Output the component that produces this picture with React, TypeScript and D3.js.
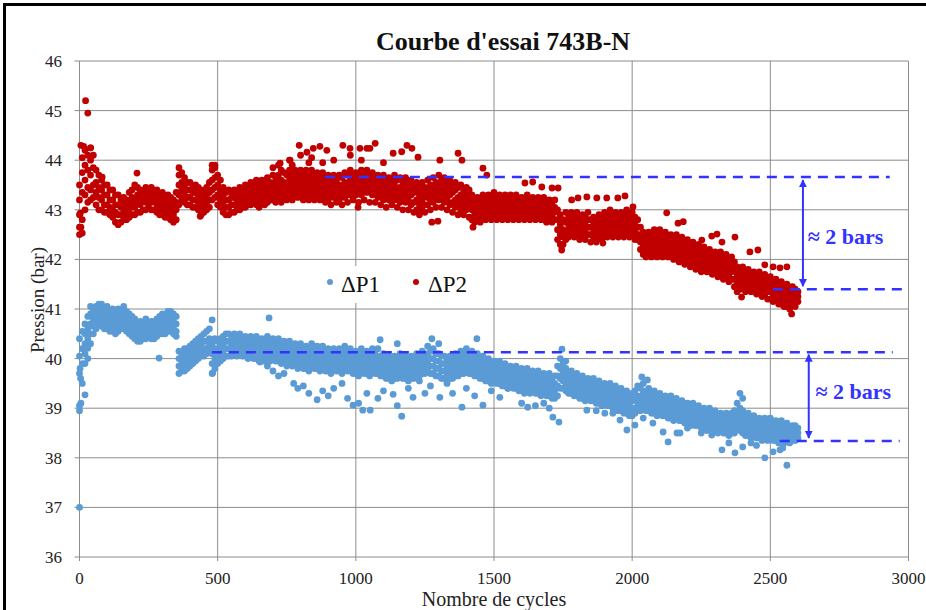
import React from "react";
import * as d3 from "d3";

const W = 926;
const H = 610;

const title = "Courbe d'essai 743B-N";
const xLabel = "Nombre de cycles";
const yLabel = "Pression (bar)";
const xTicks = [0, 500, 1000, 1500, 2000, 2500, 3000];
const yTicks = [36, 37, 38, 39, 40, 41, 42, 43, 44, 45, 46];
const seriesNames = ["ΔP1", "ΔP2"];
const annotationText = "≈ 2 bars";

// ΔP2 main band: [cycle, values...]
const dp2Band: number[][] = [
  [0, 42.5, 42.65, 42.9, 43.2, 43.5],
  [20, 43.0, 43.3, 43.6, 43.9, 44.2],
  [40, 43.2, 43.4, 43.7, 44.0, 44.25],
  [60, 43.1, 43.35, 43.55, 43.8],
  [80, 43.0, 43.2, 43.4, 43.6],
  [100, 42.95, 43.1, 43.3, 43.5],
  [120, 42.85, 43.0, 43.2, 43.4],
  [140, 42.7, 42.9, 43.1, 43.3],
  [160, 42.8, 42.95, 43.1, 43.25],
  [180, 42.85, 43.0, 43.15, 43.35],
  [200, 42.9, 43.05, 43.2, 43.5],
  [220, 42.95, 43.1, 43.25, 43.4],
  [240, 43.0, 43.15, 43.3, 43.45],
  [260, 43.0, 43.15, 43.3, 43.45],
  [280, 42.95, 43.1, 43.25, 43.4],
  [300, 42.9, 43.05, 43.2, 43.35],
  [320, 42.85, 43.0, 43.15, 43.3],
  [340, 42.75, 42.9, 43.05, 43.2],
  [360, 43.1, 43.3, 43.5, 43.7, 43.85],
  [380, 43.15, 43.3, 43.45, 43.65],
  [400, 43.1, 43.25, 43.4, 43.55],
  [420, 43.05, 43.2, 43.35, 43.5],
  [440, 42.9, 43.1, 43.25, 43.4],
  [460, 43.0, 43.15, 43.3, 43.45],
  [480, 43.2, 43.4, 43.6, 43.8, 43.9],
  [500, 43.1, 43.3, 43.5, 43.7],
  [520, 42.95, 43.1, 43.3, 43.45],
  [540, 42.9, 43.05, 43.2, 43.4],
  [560, 42.95, 43.1, 43.25, 43.4],
  [580, 43.0, 43.15, 43.3, 43.45],
  [600, 43.05, 43.2, 43.35, 43.5],
  [620, 43.1, 43.25, 43.4, 43.55],
  [640, 43.1, 43.25, 43.4, 43.6],
  [660, 43.15, 43.3, 43.45, 43.6],
  [680, 43.15, 43.3, 43.45, 43.65],
  [700, 43.2, 43.35, 43.5, 43.7, 43.85],
  [720, 43.2, 43.35, 43.5, 43.7, 43.9],
  [740, 43.25, 43.4, 43.55, 43.75],
  [760, 43.25, 43.4, 43.6, 43.8, 44.0],
  [780, 43.3, 43.45, 43.6, 43.8],
  [800, 43.3, 43.45, 43.6, 43.8, 44.1],
  [820, 43.3, 43.45, 43.6, 43.8],
  [840, 43.25, 43.4, 43.6, 43.8, 44.05],
  [860, 43.3, 43.45, 43.6, 43.75],
  [880, 43.25, 43.4, 43.55, 43.75, 43.95],
  [900, 43.2, 43.4, 43.55, 43.7],
  [920, 43.25, 43.4, 43.55, 43.7, 44.0],
  [940, 43.2, 43.35, 43.5, 43.7],
  [960, 43.25, 43.4, 43.55, 43.75],
  [980, 43.3, 43.45, 43.6, 43.8, 44.1],
  [1000, 43.3, 43.45, 43.6, 43.75],
  [1020, 43.3, 43.45, 43.6, 43.8, 44.0],
  [1040, 43.35, 43.5, 43.65, 43.8],
  [1060, 43.3, 43.45, 43.6, 43.75],
  [1080, 43.25, 43.4, 43.55, 43.7],
  [1100, 43.2, 43.35, 43.5, 43.7, 43.95],
  [1120, 43.2, 43.35, 43.5, 43.65],
  [1140, 43.2, 43.35, 43.5, 43.7],
  [1160, 43.15, 43.3, 43.45, 43.65],
  [1180, 43.15, 43.3, 43.5, 43.65],
  [1200, 43.1, 43.3, 43.45, 43.6],
  [1220, 43.0, 43.2, 43.4, 43.55],
  [1240, 43.0, 43.2, 43.35, 43.55],
  [1260, 43.1, 43.25, 43.4, 43.6],
  [1280, 43.15, 43.3, 43.45, 43.65],
  [1300, 43.2, 43.35, 43.5, 43.7],
  [1320, 43.15, 43.3, 43.5, 43.65],
  [1340, 43.1, 43.3, 43.45, 43.6],
  [1360, 43.05, 43.2, 43.4, 43.55],
  [1380, 43.0, 43.15, 43.3, 43.5],
  [1400, 43.0, 43.15, 43.3, 43.45],
  [1420, 42.8, 43.0, 43.15, 43.3],
  [1440, 42.8, 42.95, 43.1, 43.25],
  [1460, 42.85, 43.0, 43.15, 43.3],
  [1480, 42.85, 43.0, 43.15, 43.3],
  [1500, 42.9, 43.05, 43.2, 43.35],
  [1520, 42.85, 43.0, 43.15, 43.3],
  [1540, 42.85, 43.0, 43.15, 43.3],
  [1560, 42.9, 43.05, 43.2, 43.3],
  [1580, 42.85, 43.0, 43.15, 43.3],
  [1600, 42.85, 43.0, 43.1, 43.25],
  [1620, 42.9, 43.0, 43.15, 43.3],
  [1640, 42.85, 43.0, 43.1, 43.25],
  [1660, 42.85, 42.95, 43.1, 43.25],
  [1680, 42.85, 43.0, 43.1, 43.25],
  [1700, 42.8, 42.95, 43.1, 43.2],
  [1720, 42.8, 42.95, 43.05, 43.2],
  [1740, 42.3, 42.5, 42.7, 42.9],
  [1760, 42.4, 42.55, 42.75, 42.95],
  [1780, 42.5, 42.65, 42.8, 42.95],
  [1800, 42.5, 42.65, 42.8, 42.95],
  [1820, 42.45, 42.6, 42.75, 42.9],
  [1840, 42.5, 42.65, 42.8, 42.95],
  [1860, 42.4, 42.55, 42.7, 42.85],
  [1880, 42.45, 42.6, 42.75, 42.9],
  [1900, 42.5, 42.65, 42.8, 42.95],
  [1920, 42.55, 42.7, 42.85, 43.0],
  [1940, 42.5, 42.65, 42.8, 42.95],
  [1960, 42.5, 42.65, 42.8, 42.95],
  [1980, 42.55, 42.7, 42.85, 43.0],
  [2000, 42.5, 42.65, 42.8, 42.95],
  [2020, 42.4, 42.5, 42.65, 42.8],
  [2040, 42.1, 42.25, 42.4, 42.55],
  [2060, 42.1, 42.25, 42.4, 42.55],
  [2080, 42.1, 42.25, 42.4, 42.6],
  [2100, 42.15, 42.3, 42.45, 42.6],
  [2120, 42.1, 42.25, 42.4, 42.55],
  [2140, 42.1, 42.2, 42.35, 42.5],
  [2160, 42.05, 42.2, 42.35, 42.5],
  [2180, 42.0, 42.15, 42.3, 42.45],
  [2200, 41.95, 42.1, 42.25, 42.4],
  [2220, 41.9, 42.05, 42.2, 42.35],
  [2240, 41.85, 42.0, 42.15, 42.3],
  [2260, 41.8, 41.95, 42.1, 42.25],
  [2280, 41.8, 41.95, 42.05, 42.2],
  [2300, 41.75, 41.9, 42.0, 42.15],
  [2320, 41.7, 41.85, 42.0, 42.15],
  [2340, 41.65, 41.8, 41.95, 42.1],
  [2360, 41.6, 41.75, 41.9, 42.05],
  [2380, 41.35, 41.55, 41.7, 41.85],
  [2400, 41.45, 41.6, 41.7, 41.85],
  [2420, 41.4, 41.55, 41.65, 41.8],
  [2440, 41.4, 41.5, 41.65, 41.75],
  [2460, 41.35, 41.5, 41.6, 41.75],
  [2480, 41.3, 41.45, 41.55, 41.7],
  [2500, 41.2, 41.35, 41.5, 41.65],
  [2520, 41.2, 41.3, 41.45, 41.6],
  [2540, 41.1, 41.25, 41.4, 41.55],
  [2560, 41.05, 41.2, 41.35, 41.5],
  [2580, 41.1, 41.2, 41.3, 41.45],
  [2600, 41.15, 41.25, 41.35],
];

// ΔP2 band, in-between readings: [cycle, values...]
const dp2BandMid: number[][] = [
  [10, 42.8, 43.35, 43.75, 44.05], [30, 43.15, 43.45, 43.8, 44.1], [50, 43.25, 43.5, 43.85],
  [70, 43.0, 43.25, 43.45, 43.7], [90, 42.95, 43.1, 43.3, 43.5], [110, 42.9, 43.05, 43.2, 43.4],
  [130, 42.75, 42.95, 43.1, 43.3], [150, 42.75, 42.9, 43.05, 43.2], [170, 42.8, 42.9, 43.05, 43.2],
  [190, 42.9, 43.1, 43.25, 43.4], [210, 42.95, 43.15, 43.3, 43.45], [230, 43.0, 43.2, 43.35],
  [250, 43.05, 43.25, 43.4], [270, 43.0, 43.2, 43.35], [290, 42.9, 43.0, 43.15, 43.3],
  [310, 42.85, 42.95, 43.1, 43.25], [330, 42.8, 42.95, 43.1, 43.25], [350, 42.8, 43.0, 43.15, 43.35],
  [370, 43.2, 43.4, 43.55, 43.75], [390, 43.1, 43.25, 43.4, 43.55], [410, 43.05, 43.2, 43.35, 43.45],
  [430, 43.0, 43.15, 43.3, 43.45], [450, 42.95, 43.05, 43.2, 43.35], [470, 43.05, 43.2, 43.35, 43.55],
  [490, 43.25, 43.45, 43.65, 43.85], [510, 43.05, 43.2, 43.4, 43.6], [530, 42.9, 43.05, 43.2, 43.35],
  [550, 42.95, 43.1, 43.25, 43.35], [570, 43.0, 43.05, 43.2, 43.35], [590, 43.05, 43.1, 43.25, 43.4],
  [610, 43.1, 43.15, 43.3, 43.45], [630, 43.15, 43.2, 43.35, 43.5], [650, 43.05, 43.2, 43.35, 43.5],
  [670, 43.1, 43.25, 43.4, 43.55], [690, 43.2, 43.25, 43.4, 43.55], [710, 43.15, 43.3, 43.45, 43.6],
  [730, 43.15, 43.3, 43.45, 43.6, 43.8], [750, 43.2, 43.35, 43.5, 43.7], [770, 43.2, 43.35, 43.5, 43.7, 43.9],
  [790, 43.25, 43.4, 43.55, 43.7], [810, 43.2, 43.35, 43.5, 43.7], [830, 43.2, 43.35, 43.5, 43.7, 43.95],
  [850, 43.2, 43.35, 43.5, 43.7], [870, 43.2, 43.35, 43.5, 43.65], [890, 43.15, 43.3, 43.45, 43.65],
  [910, 43.1, 43.3, 43.45, 43.6], [930, 43.15, 43.3, 43.45, 43.6], [950, 43.1, 43.3, 43.45, 43.65],
  [970, 43.15, 43.35, 43.5, 43.7], [990, 43.2, 43.35, 43.5, 43.7], [1010, 43.15, 43.35, 43.5, 43.7],
  [1030, 43.2, 43.4, 43.55, 43.7], [1050, 43.15, 43.4, 43.55, 43.7], [1070, 43.15, 43.35, 43.5, 43.65],
  [1090, 43.1, 43.3, 43.45, 43.6], [1110, 43.05, 43.25, 43.4, 43.6], [1130, 43.1, 43.25, 43.4, 43.6],
  [1150, 43.05, 43.25, 43.4, 43.6], [1170, 43.0, 43.2, 43.4, 43.55], [1190, 43.0, 43.2, 43.4, 43.55],
  [1210, 42.95, 43.15, 43.35, 43.5], [1230, 42.9, 43.1, 43.3, 43.45], [1250, 42.95, 43.1, 43.3, 43.45],
  [1270, 43.0, 43.2, 43.35, 43.5], [1290, 43.05, 43.25, 43.4, 43.55], [1310, 43.05, 43.25, 43.4, 43.6],
  [1330, 43.0, 43.2, 43.4, 43.55], [1350, 42.95, 43.15, 43.35, 43.5], [1370, 42.9, 43.1, 43.25, 43.45],
  [1390, 42.9, 43.05, 43.25, 43.4], [1410, 42.85, 43.05, 43.2, 43.4], [1430, 42.75, 42.9, 43.05, 43.2],
  [1450, 42.75, 42.9, 43.05, 43.2], [1470, 42.8, 42.95, 43.1, 43.2], [1490, 42.8, 42.95, 43.1, 43.25],
  [1510, 42.8, 42.95, 43.1, 43.25], [1530, 42.8, 42.95, 43.1, 43.2], [1550, 42.8, 42.95, 43.1, 43.25],
  [1570, 42.8, 42.95, 43.1, 43.2], [1590, 42.8, 42.95, 43.05, 43.2], [1610, 42.8, 42.95, 43.05, 43.2],
  [1630, 42.8, 42.95, 43.05, 43.2], [1650, 42.8, 42.9, 43.05, 43.15], [1670, 42.8, 42.9, 43.05, 43.2],
  [1690, 42.75, 42.9, 43.05, 43.15], [1710, 42.75, 42.85, 43.0, 43.15], [1730, 42.4, 42.6, 42.8, 43.0],
  [1750, 42.3, 42.45, 42.6, 42.8], [1770, 42.45, 42.6, 42.7, 42.85], [1790, 42.45, 42.55, 42.7, 42.85],
  [1810, 42.4, 42.55, 42.7, 42.85], [1830, 42.4, 42.55, 42.7, 42.85], [1850, 42.35, 42.5, 42.65, 42.8],
  [1870, 42.35, 42.5, 42.65, 42.8], [1890, 42.4, 42.55, 42.7, 42.85], [1910, 42.45, 42.6, 42.75, 42.9],
  [1930, 42.45, 42.6, 42.75, 42.9], [1950, 42.45, 42.6, 42.75, 42.9], [1970, 42.45, 42.6, 42.75, 42.9],
  [1990, 42.45, 42.6, 42.75, 42.9], [2010, 42.4, 42.55, 42.7, 42.85], [2030, 42.2, 42.35, 42.5, 42.65],
  [2050, 42.05, 42.2, 42.35, 42.5], [2070, 42.05, 42.2, 42.35, 42.5], [2090, 42.05, 42.2, 42.35, 42.5],
  [2110, 42.05, 42.2, 42.35, 42.5], [2130, 42.05, 42.15, 42.3, 42.45], [2150, 42.0, 42.15, 42.3, 42.4],
  [2170, 41.95, 42.1, 42.25, 42.4], [2190, 41.9, 42.05, 42.2, 42.35], [2210, 41.85, 42.0, 42.15, 42.3],
  [2230, 41.8, 41.95, 42.1, 42.25], [2250, 41.75, 41.9, 42.05, 42.2], [2270, 41.75, 41.85, 42.0, 42.15],
  [2290, 41.7, 41.85, 42.0, 42.1], [2310, 41.65, 41.8, 41.95, 42.1], [2330, 41.6, 41.75, 41.9, 42.05],
  [2350, 41.55, 41.7, 41.85, 42.0], [2370, 41.45, 41.6, 41.8, 41.95], [2390, 41.4, 41.5, 41.65, 41.8],
  [2410, 41.35, 41.5, 41.6, 41.75], [2430, 41.35, 41.45, 41.6, 41.7], [2450, 41.3, 41.45, 41.55, 41.7],
  [2470, 41.25, 41.4, 41.5, 41.65], [2490, 41.2, 41.35, 41.45, 41.6], [2510, 41.15, 41.25, 41.4, 41.55],
  [2530, 41.1, 41.2, 41.35, 41.5], [2550, 41.05, 41.15, 41.3, 41.45], [2570, 41.0, 41.15, 41.25, 41.4],
  [2590, 41.05, 41.15, 41.25, 41.4],
];

// ΔP2 scattered points: [cycle, value]
const dp2Scatter: number[][] = [
  [5, 44.3], [15, 44.28], [22, 45.2], [30, 44.95], [40, 44.25], [10, 42.53], [5, 42.65], [3, 42.93],
  [50, 44.1], [82, 43.66], [208, 43.74], [437, 42.87], [490, 43.9],
  [726, 43.94], [762, 44.0], [795, 44.3], [823, 44.16], [846, 44.24], [870, 44.28], [895, 44.2],
  [953, 44.3], [979, 44.24], [1015, 44.24], [1008, 43.05], [1051, 44.24], [1070, 44.34], [1040, 44.24],
  [1135, 44.14], [1166, 44.17], [1185, 44.3], [1203, 44.24], [1225, 44.06], [1304, 44.0], [1370, 44.14],
  [1384, 44.0], [1460, 43.84], [1474, 43.7], [1275, 42.75], [1297, 42.77], [1424, 42.65],
  [1612, 43.54], [1640, 43.56], [1673, 43.46], [1710, 43.44], [1732, 43.44],
  [1781, 43.2], [1804, 43.24], [1836, 43.26], [1872, 43.24], [1908, 43.24], [1948, 43.24], [1974, 43.28],
  [2003, 43.06], [1745, 42.19], [1894, 42.33],
  [2125, 42.94], [2166, 42.73], [2185, 42.76], [2252, 42.39], [2288, 42.47], [2307, 42.51], [2325, 42.35],
  [2372, 42.45], [2426, 42.15], [2455, 42.19], [2480, 41.89], [2510, 41.85], [2535, 41.83], [2560, 41.85],
  [2396, 41.24], [2524, 41.24], [2577, 40.9], [2546, 41.08],
];

// ΔP1 main band: [cycle, values...]
const dp1Band: number[][] = [
  [0, 38.95, 39.05, 39.7, 40.05, 40.4],
  [20, 39.9, 40.1, 40.3, 40.5, 40.7],
  [40, 40.3, 40.5, 40.7, 40.9, 41.05],
  [60, 40.6, 40.75, 40.9, 41.05],
  [80, 40.65, 40.8, 40.95, 41.1],
  [100, 40.6, 40.75, 40.9, 41.05],
  [120, 40.55, 40.7, 40.85, 41.0],
  [140, 40.55, 40.7, 40.85, 41.0],
  [160, 40.6, 40.75, 40.9, 41.05],
  [180, 40.5, 40.6, 40.75, 40.9],
  [200, 40.4, 40.5, 40.65, 40.8],
  [220, 40.35, 40.5, 40.6, 40.75],
  [240, 40.4, 40.5, 40.65, 40.8],
  [260, 40.4, 40.55, 40.65, 40.75],
  [280, 40.45, 40.55, 40.7, 40.8],
  [300, 40.5, 40.6, 40.75, 40.9],
  [320, 40.55, 40.65, 40.8, 40.95],
  [340, 40.5, 40.6, 40.75, 40.9],
  [360, 39.7, 39.85, 40.0, 40.15],
  [380, 39.75, 39.9, 40.05, 40.2],
  [400, 39.85, 40.0, 40.1, 40.25],
  [420, 39.95, 40.05, 40.2, 40.35],
  [440, 40.05, 40.15, 40.3, 40.45],
  [460, 40.1, 40.2, 40.35, 40.55],
  [480, 39.7, 39.9, 40.1, 40.3],
  [500, 39.9, 40.05, 40.2, 40.35],
  [520, 40.0, 40.15, 40.3, 40.45],
  [540, 40.05, 40.2, 40.35, 40.5],
  [560, 40.1, 40.2, 40.35, 40.5],
  [580, 40.1, 40.2, 40.35, 40.5],
  [600, 40.05, 40.2, 40.3, 40.45],
  [620, 40.05, 40.2, 40.3, 40.45],
  [640, 40.0, 40.15, 40.3, 40.45],
  [660, 39.95, 40.1, 40.25, 40.4],
  [680, 40.0, 40.15, 40.3, 40.45],
  [700, 40.0, 40.1, 40.25, 40.4],
  [720, 39.95, 40.1, 40.25, 40.4],
  [740, 39.95, 40.05, 40.2, 40.35],
  [760, 39.9, 40.05, 40.2, 40.35],
  [780, 39.9, 40.0, 40.15, 40.3],
  [800, 39.85, 40.0, 40.15, 40.3],
  [820, 39.8, 39.95, 40.1, 40.25],
  [840, 39.85, 40.0, 40.15, 40.3],
  [860, 39.8, 39.95, 40.1, 40.25],
  [880, 39.8, 39.95, 40.1, 40.25],
  [900, 39.75, 39.9, 40.05, 40.2],
  [920, 39.8, 39.95, 40.05, 40.2],
  [940, 39.75, 39.9, 40.05, 40.2],
  [960, 39.8, 39.95, 40.1, 40.25],
  [980, 39.75, 39.9, 40.05, 40.2],
  [1000, 39.7, 39.85, 40.0, 40.15],
  [1020, 39.75, 39.9, 40.05, 40.2],
  [1040, 39.7, 39.85, 40.0, 40.15],
  [1060, 39.75, 39.9, 40.05, 40.2],
  [1080, 39.7, 39.85, 40.0, 40.2],
  [1100, 39.65, 39.8, 39.95, 40.1],
  [1120, 39.6, 39.75, 39.9, 40.05],
  [1140, 39.6, 39.75, 39.9, 40.05],
  [1160, 39.65, 39.8, 39.95, 40.1],
  [1180, 39.6, 39.75, 39.9, 40.05],
  [1200, 39.6, 39.75, 39.9, 40.05],
  [1220, 39.65, 39.8, 39.95, 40.1],
  [1240, 39.7, 39.85, 40.0, 40.15],
  [1260, 39.75, 39.9, 40.05, 40.25],
  [1280, 39.7, 39.85, 40.0, 40.2],
  [1300, 39.65, 39.8, 39.95, 40.1],
  [1320, 39.6, 39.75, 39.9, 40.05],
  [1340, 39.6, 39.75, 39.9, 40.05],
  [1360, 39.65, 39.8, 39.95, 40.1],
  [1380, 39.7, 39.85, 40.0, 40.15],
  [1400, 39.75, 39.9, 40.05, 40.2],
  [1420, 39.7, 39.85, 40.0, 40.15],
  [1440, 39.65, 39.8, 39.95, 40.1],
  [1460, 39.6, 39.75, 39.9, 40.05],
  [1480, 39.55, 39.7, 39.85, 40.0],
  [1500, 39.55, 39.7, 39.85, 39.95],
  [1520, 39.5, 39.65, 39.8, 39.95],
  [1540, 39.45, 39.6, 39.75, 39.9],
  [1560, 39.45, 39.6, 39.7, 39.85],
  [1580, 39.4, 39.55, 39.7, 39.85],
  [1600, 39.35, 39.5, 39.65, 39.8],
  [1620, 39.35, 39.5, 39.65, 39.8],
  [1640, 39.35, 39.45, 39.6, 39.75],
  [1660, 39.3, 39.45, 39.6, 39.75],
  [1680, 39.3, 39.45, 39.55, 39.7],
  [1700, 39.25, 39.4, 39.55, 39.7],
  [1720, 39.2, 39.35, 39.5, 39.65],
  [1740, 39.4, 39.6, 39.8, 40.0],
  [1760, 39.35, 39.5, 39.65, 39.8],
  [1780, 39.3, 39.45, 39.6, 39.75],
  [1800, 39.25, 39.4, 39.55, 39.7],
  [1820, 39.2, 39.35, 39.5, 39.65],
  [1840, 39.2, 39.3, 39.45, 39.6],
  [1860, 39.15, 39.3, 39.45, 39.6],
  [1880, 39.1, 39.25, 39.4, 39.55],
  [1900, 39.1, 39.2, 39.35, 39.5],
  [1920, 39.05, 39.2, 39.35, 39.5],
  [1940, 39.0, 39.15, 39.3, 39.45],
  [1960, 38.95, 39.1, 39.25, 39.4],
  [1980, 38.9, 39.05, 39.2, 39.35],
  [2000, 38.85, 39.0, 39.15, 39.3],
  [2020, 38.95, 39.1, 39.25, 39.45],
  [2040, 39.0, 39.15, 39.3, 39.5],
  [2060, 38.95, 39.1, 39.25, 39.4],
  [2080, 38.9, 39.05, 39.2, 39.35],
  [2100, 38.9, 39.0, 39.15, 39.3],
  [2120, 38.85, 39.0, 39.1, 39.25],
  [2140, 38.8, 38.95, 39.1, 39.25],
  [2160, 38.8, 38.9, 39.05, 39.2],
  [2180, 38.75, 38.9, 39.0, 39.15],
  [2200, 38.7, 38.85, 39.0, 39.1],
  [2220, 38.7, 38.8, 38.95, 39.1],
  [2240, 38.65, 38.8, 38.9, 39.05],
  [2260, 38.6, 38.75, 38.9, 39.0],
  [2280, 38.6, 38.7, 38.85, 39.0],
  [2300, 38.55, 38.7, 38.8, 38.95],
  [2320, 38.55, 38.65, 38.8, 38.9],
  [2340, 38.5, 38.65, 38.75, 38.9],
  [2360, 38.5, 38.6, 38.75, 38.9],
  [2380, 38.6, 38.75, 38.9, 39.1],
  [2400, 38.5, 38.65, 38.8, 38.95],
  [2420, 38.45, 38.6, 38.75, 38.9],
  [2440, 38.45, 38.55, 38.7, 38.85],
  [2460, 38.4, 38.55, 38.7, 38.8],
  [2480, 38.4, 38.5, 38.65, 38.8],
  [2500, 38.4, 38.5, 38.65, 38.8],
  [2520, 38.35, 38.5, 38.6, 38.75],
  [2540, 38.35, 38.45, 38.6, 38.75],
  [2560, 38.35, 38.45, 38.55, 38.7],
  [2580, 38.35, 38.45, 38.55, 38.65],
  [2600, 38.4, 38.5, 38.6],
];

// ΔP1 band, in-between readings: [cycle, values...]
const dp1BandMid: number[][] = [
  [10, 39.5, 39.9, 40.2, 40.55], [30, 40.0, 40.4, 40.6, 40.85], [50, 40.5, 40.65, 40.8, 40.95],
  [70, 40.7, 40.85, 41.0, 41.1], [90, 40.6, 40.7, 40.85, 41.0], [110, 40.55, 40.65, 40.8, 40.95],
  [130, 40.5, 40.6, 40.75, 40.9], [150, 40.6, 40.7, 40.8, 40.95], [170, 40.55, 40.65, 40.8, 40.95],
  [190, 40.45, 40.55, 40.7, 40.85], [210, 40.35, 40.45, 40.55, 40.7], [230, 40.4, 40.45, 40.55, 40.7],
  [250, 40.45, 40.5, 40.6, 40.7], [270, 40.4, 40.5, 40.6, 40.75], [290, 40.5, 40.6, 40.7, 40.85],
  [310, 40.5, 40.6, 40.7, 40.85], [330, 40.55, 40.7, 40.85, 40.95], [350, 40.45, 40.55, 40.7, 40.85],
  [370, 39.75, 39.8, 39.95, 40.1], [390, 39.8, 39.95, 40.1, 40.2], [410, 39.9, 40.0, 40.15, 40.3],
  [430, 40.0, 40.1, 40.25, 40.4], [450, 40.05, 40.2, 40.35, 40.5], [470, 40.15, 40.25, 40.4, 40.6],
  [490, 39.8, 40.0, 40.2, 40.4], [510, 39.95, 40.1, 40.25, 40.4], [530, 40.05, 40.2, 40.35, 40.5],
  [550, 40.05, 40.15, 40.3, 40.45], [570, 40.05, 40.15, 40.3, 40.45], [590, 40.05, 40.15, 40.25, 40.4],
  [610, 40.0, 40.15, 40.25, 40.4], [630, 40.0, 40.1, 40.25, 40.4], [650, 39.95, 40.05, 40.2, 40.35],
  [670, 39.95, 40.05, 40.2, 40.35], [690, 39.95, 40.05, 40.2, 40.35], [710, 39.95, 40.05, 40.2, 40.35],
  [730, 39.9, 40.0, 40.15, 40.3], [750, 39.85, 40.0, 40.15, 40.3], [770, 39.85, 39.95, 40.1, 40.25],
  [790, 39.8, 39.95, 40.1, 40.25], [810, 39.8, 39.9, 40.05, 40.2], [830, 39.75, 39.9, 40.05, 40.2],
  [850, 39.8, 39.9, 40.05, 40.2], [870, 39.75, 39.9, 40.05, 40.2], [890, 39.75, 39.85, 40.0, 40.15],
  [910, 39.7, 39.85, 40.0, 40.15], [930, 39.75, 39.85, 40.0, 40.15], [950, 39.7, 39.85, 40.0, 40.15],
  [970, 39.75, 39.85, 40.0, 40.15], [990, 39.7, 39.8, 39.95, 40.1], [1010, 39.65, 39.8, 39.95, 40.1],
  [1030, 39.7, 39.8, 39.95, 40.1], [1050, 39.65, 39.8, 39.95, 40.1], [1070, 39.7, 39.8, 39.95, 40.1],
  [1090, 39.65, 39.75, 39.9, 40.05], [1110, 39.6, 39.7, 39.85, 40.0], [1130, 39.55, 39.7, 39.85, 40.0],
  [1150, 39.6, 39.7, 39.85, 40.0], [1170, 39.6, 39.7, 39.85, 40.0], [1190, 39.55, 39.7, 39.85, 40.0],
  [1210, 39.6, 39.7, 39.85, 40.0], [1230, 39.65, 39.75, 39.9, 40.05], [1250, 39.7, 39.8, 39.95, 40.1],
  [1270, 39.7, 39.85, 40.0, 40.15], [1290, 39.65, 39.8, 39.95, 40.1], [1310, 39.6, 39.75, 39.9, 40.05],
  [1330, 39.55, 39.7, 39.85, 40.0], [1350, 39.6, 39.7, 39.85, 40.0], [1370, 39.65, 39.75, 39.9, 40.05],
  [1390, 39.7, 39.8, 39.95, 40.1], [1410, 39.7, 39.8, 39.95, 40.1], [1430, 39.65, 39.75, 39.9, 40.05],
  [1450, 39.6, 39.7, 39.85, 40.0], [1470, 39.55, 39.65, 39.8, 39.95], [1490, 39.5, 39.65, 39.8, 39.95],
  [1510, 39.5, 39.6, 39.75, 39.9], [1530, 39.45, 39.55, 39.7, 39.85], [1550, 39.4, 39.55, 39.65, 39.8],
  [1570, 39.4, 39.5, 39.65, 39.8], [1590, 39.35, 39.45, 39.6, 39.75], [1610, 39.3, 39.45, 39.6, 39.75],
  [1630, 39.3, 39.4, 39.55, 39.7], [1650, 39.3, 39.4, 39.55, 39.7], [1670, 39.25, 39.35, 39.5, 39.65],
  [1690, 39.25, 39.35, 39.5, 39.65], [1710, 39.2, 39.3, 39.45, 39.6], [1730, 39.25, 39.45, 39.65, 39.85],
  [1750, 39.4, 39.55, 39.7, 39.9], [1770, 39.3, 39.4, 39.55, 39.7], [1790, 39.25, 39.35, 39.5, 39.65],
  [1810, 39.2, 39.3, 39.45, 39.6], [1830, 39.15, 39.25, 39.4, 39.55], [1850, 39.15, 39.25, 39.4, 39.55],
  [1870, 39.1, 39.2, 39.35, 39.5], [1890, 39.05, 39.15, 39.3, 39.45], [1910, 39.05, 39.15, 39.3, 39.45],
  [1930, 39.0, 39.1, 39.25, 39.4], [1950, 38.95, 39.05, 39.2, 39.35], [1970, 38.9, 39.0, 39.15, 39.3],
  [1990, 38.85, 38.95, 39.1, 39.25], [2010, 38.9, 39.0, 39.2, 39.35], [2030, 38.95, 39.05, 39.2, 39.4],
  [2050, 38.95, 39.05, 39.2, 39.35], [2070, 38.9, 39.0, 39.15, 39.3], [2090, 38.85, 38.95, 39.1, 39.25],
  [2110, 38.85, 38.95, 39.05, 39.2], [2130, 38.8, 38.9, 39.05, 39.2], [2150, 38.75, 38.85, 39.0, 39.15],
  [2170, 38.75, 38.85, 38.95, 39.1], [2190, 38.7, 38.8, 38.95, 39.05], [2210, 38.65, 38.75, 38.9, 39.05],
  [2230, 38.65, 38.75, 38.85, 39.0], [2250, 38.6, 38.7, 38.85, 38.95], [2270, 38.55, 38.65, 38.8, 38.95],
  [2290, 38.55, 38.65, 38.75, 38.9], [2310, 38.5, 38.6, 38.75, 38.85], [2330, 38.5, 38.6, 38.7, 38.85],
  [2350, 38.45, 38.55, 38.7, 38.85], [2370, 38.5, 38.65, 38.8, 38.95], [2390, 38.55, 38.7, 38.85, 39.0],
  [2410, 38.45, 38.55, 38.7, 38.85], [2430, 38.4, 38.5, 38.65, 38.8], [2450, 38.4, 38.5, 38.6, 38.75],
  [2470, 38.35, 38.45, 38.6, 38.75], [2490, 38.35, 38.45, 38.6, 38.7], [2510, 38.35, 38.45, 38.55, 38.7],
  [2530, 38.3, 38.4, 38.55, 38.7], [2550, 38.3, 38.4, 38.5, 38.65], [2570, 38.3, 38.4, 38.5, 38.6],
  [2590, 38.35, 38.45, 38.55, 38.65],
];

// ΔP1 scattered points: [cycle, value]
const dp1Scatter: number[][] = [
  [0, 37.0], [2, 39.8], [4, 39.6], [20, 39.27], [30, 40.21], [5, 39.1], [288, 40.01], [480, 40.78], [482, 39.71],
  [686, 40.82], [653, 39.93], [680, 39.85], [700, 39.75], [720, 39.65], [740, 39.7], [775, 39.5], [790, 39.4],
  [810, 39.45], [830, 39.3], [860, 39.17], [880, 39.35], [900, 39.25], [920, 39.4], [950, 39.5], [970, 39.2],
  [990, 39.06], [1010, 39.1], [1025, 38.96], [1040, 39.3],
  [1052, 38.96], [1080, 39.2], [1100, 39.35], [1135, 39.28], [1150, 39.05], [1166, 38.84], [1190, 39.4],
  [1207, 39.22], [1230, 39.55], [1250, 39.3], [1270, 39.45], [1304, 39.22], [1330, 39.5], [1350, 39.3],
  [1384, 39.02], [1400, 39.4], [1430, 39.25], [1460, 39.06], [1490, 39.35], [1521, 39.22], [1550, 39.4],
  [1088, 40.38], [1275, 40.4], [1438, 40.4], [1300, 40.3], [1150, 40.3],
  [1600, 39.1], [1622, 39.02], [1650, 39.05], [1680, 39.1], [1713, 38.82], [1735, 38.72], [1700, 39.0],
  [1746, 40.19], [1760, 39.95],
  [1836, 38.96], [1870, 38.95], [1901, 38.9], [1930, 38.9], [1956, 38.76], [1981, 38.56], [2010, 38.66],
  [2040, 38.8], [2075, 38.7], [2112, 38.52], [2130, 38.32], [2162, 38.5], [2035, 39.63], [2055, 39.57],
  [2173, 38.5], [2200, 38.6], [2220, 38.66], [2250, 38.5], [2288, 38.46], [2325, 38.16], [2350, 38.3],
  [2372, 38.1], [2400, 38.22], [2430, 38.3], [2450, 38.25], [2480, 38.0], [2510, 38.12], [2535, 38.16],
  [2560, 37.85], [2545, 38.2], [2390, 39.3], [2400, 39.2],
];

// Reference lines: [cycleStart, cycleEnd, value]
const dp2RefLines: number[][] = [
  [888, 2932, 43.66],
  [2509, 2976, 41.4],
];
const dp1RefLines: number[][] = [
  [479, 2943, 40.13],
  [2534, 2968, 38.34],
];
// Arrows: [cycle, fromValue, toValue]
const arrows: number[][] = [
  [2618, 43.6, 41.46],
  [2639, 40.08, 38.4],
];
// Annotation labels: [cycle, value]
const annotationPos: number[][] = [
  [2635, 42.47],
  [2663, 39.35],
];

const BLUE = "#5B9BD5";
const RED = "#C00000";
const DASH = "#3333FF";
const GRID = "#8C8C8C";
const FONT = "'Liberation Serif', 'Times New Roman', serif";

function flatten(bands: number[][][], scatter: number[][]): number[][] {
  const pts: number[][] = [];
  bands.forEach((band) =>
    band.forEach((row) => {
      for (let i = 1; i < row.length; i++) pts.push([row[0], row[i]]);
    })
  );
  scatter.forEach((p) => pts.push(p));
  return pts;
}

export default function App() {
  const left = 79.5;
  const right = 908.5;
  const top = 61;
  const bottom = 557;
  const x = d3.scaleLinear().domain([0, 3000]).range([left, right]);
  const y = d3.scaleLinear().domain([36, 46]).range([bottom, top]);

  const p1 = flatten([dp1Band, dp1BandMid], dp1Scatter);
  const p2 = flatten([dp2Band, dp2BandMid], dp2Scatter);

  return (
    <svg
      width={W}
      height={H}
      style={{ position: "absolute", left: 0, top: 0, background: "#fff" }}
      fontFamily={FONT}
    >
      <defs>
        <marker id="ah" viewBox="0 0 10 10" refX="9" refY="5" markerWidth="4" markerHeight="5" orient="auto-start-reverse">
          <path d="M0,0 L10,5 L0,10 z" fill={DASH} />
        </marker>
      </defs>
      <rect x={0} y={0} width={W} height={H} fill="#fff" />
      <rect x={4.5} y={4.5} width={W + 20} height={H + 20} fill="none" stroke="#000" strokeWidth={3} />

      {/* grid */}
      {yTicks.map((t) => (
        <line key={"gy" + t} x1={left - 5} x2={right} y1={y(t)} y2={y(t)} stroke={GRID} strokeWidth={1} />
      ))}
      {xTicks.map((t) => (
        <line key={"gx" + t} x1={x(t)} x2={x(t)} y1={top} y2={bottom + 4} stroke={GRID} strokeWidth={1} />
      ))}

      {/* tick labels */}
      {yTicks.map((t) => (
        <text key={"ty" + t} x={62} y={y(t)} dy="0.35em" textAnchor="end" fontSize={17} fill="#222">
          {t}
        </text>
      ))}
      {xTicks.map((t) => (
        <text key={"tx" + t} x={x(t)} y={584} textAnchor="middle" fontSize={17} fill="#222">
          {t}
        </text>
      ))}

      {/* title and axis labels */}
      <text x={503} y={50} textAnchor="middle" fontSize={26} fontWeight="bold" fill="#111">
        {title}
      </text>
      <text x={494} y={606} textAnchor="middle" fontSize={20} fill="#222">
        {xLabel}
      </text>
      <text transform={`translate(37,300) rotate(-90)`} textAnchor="middle" dy="0.35em" fontSize={19} fill="#222">
        {yLabel}
      </text>

      {/* points */}
      {p2.map((p, i) => (
        <circle key={"r" + i} cx={x(p[0])} cy={y(p[1])} r={3.4} fill={RED} />
      ))}
      {p1.map((p, i) => (
        <circle key={"b" + i} cx={x(p[0])} cy={y(p[1])} r={3.4} fill={BLUE} />
      ))}

      {/* reference dashed lines */}
      {[...dp2RefLines, ...dp1RefLines].map((l, i) => (
        <line
          key={"ref" + i}
          x1={x(l[0])}
          x2={x(l[1])}
          y1={y(l[2])}
          y2={y(l[2])}
          stroke={DASH}
          strokeWidth={2.5}
          strokeDasharray="10 7"
        />
      ))}
      {arrows.map((a, i) => (
        <line
          key={"ar" + i}
          x1={x(a[0])}
          x2={x(a[0])}
          y1={y(a[1])}
          y2={y(a[2])}
          stroke={DASH}
          strokeWidth={2}
          markerStart="url(#ah)"
          markerEnd="url(#ah)"
        />
      ))}
      {annotationPos.map((p, i) => (
        <text key={"an" + i} x={x(p[0])} y={y(p[1])} dy="0.35em" fontSize={22} fontWeight="bold" fill={DASH}>
          {annotationText}
        </text>
      ))}

      {/* legend */}
      <rect x={320} y={266} width={164} height={37} fill="#fff" />
      <circle cx={330} cy={282} r={3} fill={BLUE} />
      <text x={341} y={292} fontSize={23} fill="#111">
        {seriesNames[0]}
      </text>
      <circle cx={416} cy={282} r={3} fill={RED} />
      <text x={428} y={292} fontSize={23} fill="#111">
        {seriesNames[1]}
      </text>
    </svg>
  );
}
